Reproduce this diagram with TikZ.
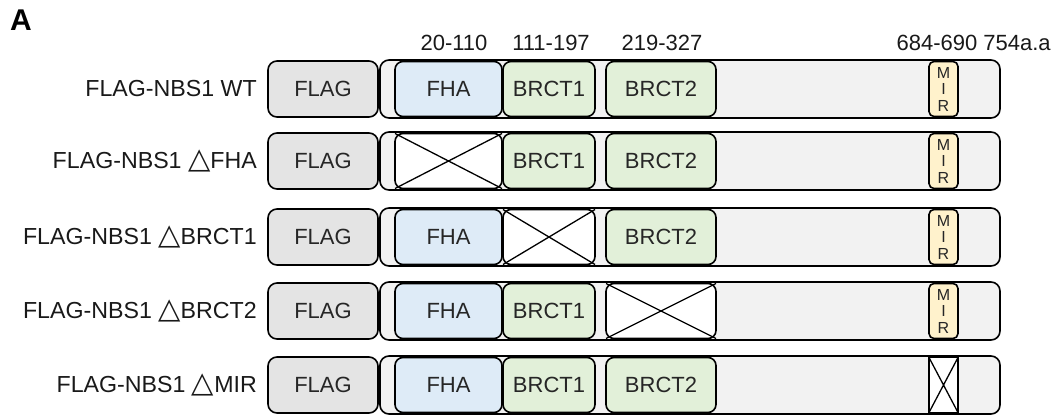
\documentclass[tikz,border=0pt]{standalone}
\usepackage{fontspec}
\setmainfont{Liberation Sans}
\newfontfamily\dejavu{DejaVu Sans}
\definecolor{flaggray}{HTML}{E4E4E4}
\definecolor{bargray}{HTML}{F2F2F2}
\definecolor{fhablue}{HTML}{DEEBF7}
\definecolor{brctgreen}{HTML}{E2F0D9}
\definecolor{miryellow}{HTML}{FFF2CC}
\newcommand{\dl}{{\dejavu\fontsize{29}{26}\selectfont\char"25B3}}
\tikzset{
  base/.style={draw=black, line width=1.6pt, inner sep=0pt, outer sep=0pt,
    font=\fontsize{22}{24}\selectfont, text=black!85},
  flagbox/.style={base, fill=flaggray, rounded corners=9pt, minimum width=110pt, minimum height=56pt},
  barbox/.style={base, fill=bargray, rounded corners=9pt, minimum width=620pt, minimum height=58pt},
  dom/.style={base, rounded corners=8pt, minimum height=55pt},
  fhabox/.style={dom, fill=fhablue, minimum width=107pt},
  brct1box/.style={dom, fill=brctgreen, minimum width=92pt},
  brct2box/.style={dom, fill=brctgreen, minimum width=110pt},
  mirbox/.style={dom, fill=miryellow, rounded corners=5pt, minimum width=29pt,
    align=center, font=\fontsize{16}{16.5}\selectfont},
  delbox/.style={fill=white},
  rowlabel/.style={anchor=east, inner sep=0pt, font=\fontsize{23.2}{26}\selectfont, text=black!90},
  numlabel/.style={inner sep=0pt, font=\fontsize{22}{26}\selectfont, text=black!90},
  xline/.style={line width=1.3pt, black}
}
\newcommand{\crossit}[1]{\draw[xline] (#1.north west) -- (#1.south east) (#1.north east) -- (#1.south west);}
\begin{document}
\begin{tikzpicture}[x=1pt,y=-1pt]
\useasboundingbox (0,0) rectangle (1058,416);
\node[inner sep=0pt, font=\bfseries\fontsize{30}{32}\selectfont] (A) at (21,20) {A};
\node[numlabel] (n1) at (454,43) {20-110};
\node[numlabel] (n2) at (551,43) {111-197};
\node[numlabel] (n3) at (662,43) {219-327};
\node[numlabel] (n4) at (937,43) {684-690};
\node[numlabel] (n5) at (1017,43) {754a.a};
% rows
\foreach \i/\cy/\lab in {1/89/{FLAG-NBS1 WT},2/161/{FLAG-NBS1 \dl FHA},3/237/{FLAG-NBS1 \dl BRCT1},4/311/{FLAG-NBS1 \dl BRCT2},5/385/{FLAG-NBS1 \dl MIR}}{
  \node[rowlabel] (lab\i) at (257,\cy) {\lab};
  \node[flagbox] (flag\i) at (323,\cy) {FLAG};
  \node[barbox] (bar\i) at (690,\cy) {};
}
% row 1
\node[fhabox] (fha1) at (448.5,89) {FHA};
\node[brct1box] (b1r1) at (549,89) {BRCT1};
\node[brct2box] (b2r1) at (661,89) {BRCT2};
\node[mirbox] (mir1) at (943.5,89) {M\\I\\R};
% row 2
\node[fhabox,delbox] (fha2) at (448.5,161) {};
\crossit{fha2}
\node[brct1box] (b1r2) at (549,161) {BRCT1};
\node[brct2box] (b2r2) at (661,161) {BRCT2};
\node[mirbox] (mir2) at (943.5,161) {M\\I\\R};
% row 3
\node[fhabox] (fha3) at (448.5,237) {FHA};
\node[brct1box,delbox] (b1r3) at (549,237) {};
\crossit{b1r3}
\node[brct2box] (b2r3) at (661,237) {BRCT2};
\node[mirbox] (mir3) at (943.5,237) {M\\I\\R};
% row 4
\node[fhabox] (fha4) at (448.5,311) {FHA};
\node[brct1box] (b1r4) at (549,311) {BRCT1};
\node[brct2box,delbox] (b2r4) at (661,311) {};
\crossit{b2r4}
\node[mirbox] (mir4) at (943.5,311) {M\\I\\R};
% row 5
\node[fhabox] (fha5) at (448.5,385) {FHA};
\node[brct1box] (b1r5) at (549,385) {BRCT1};
\node[brct2box] (b2r5) at (661,385) {BRCT2};
\node[mirbox,delbox,rounded corners=0pt] (mir5) at (943.5,385) {};
\crossit{mir5}
\end{tikzpicture}
\end{document}
